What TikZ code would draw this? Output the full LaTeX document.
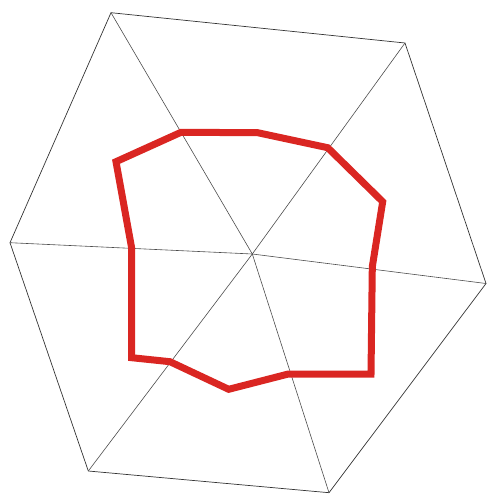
\documentclass[tikz,border=0pt]{standalone}
\usepackage{tikz}

\begin{document}
\begin{tikzpicture}[
  x=1pt, y=-1pt,
  edge/.style={draw=black!80, line width=0.7pt},
  spoke/.style={draw=black!70, line width=0.6pt},
  loopline/.style={draw=loopred, line width=7pt, line join=miter}
]
\definecolor{loopred}{RGB}{218,38,34}
\useasboundingbox (0,0) rectangle (486,494);
\coordinate (tl) at (111,12.7);
\coordinate (tr) at (405,43);
\coordinate (r)  at (486,283.5);
\coordinate (br) at (329,492.7);
\coordinate (bl) at (88.3,471);
\coordinate (l)  at (10,242.7);
\coordinate (c)  at (252.3,254);
\draw[edge] (tl) -- (tr) -- (r) -- (br) -- (bl) -- (l) -- cycle;
\foreach \v in {tl,tr,r,br,bl,l}
  \draw[spoke] (c) -- (\v);
\draw[loopline] (116,161.7) -- (181,132.3) -- (257.7,132.7) -- (327.7,147.7)
  -- (382.7,201.7) -- (372.3,266.7) -- (371,374) -- (288.3,374)
  -- (228.7,389.3) -- (170,361.7) -- (131.7,357.7) -- (131.7,248.3) -- cycle;
\end{tikzpicture}
\end{document}
